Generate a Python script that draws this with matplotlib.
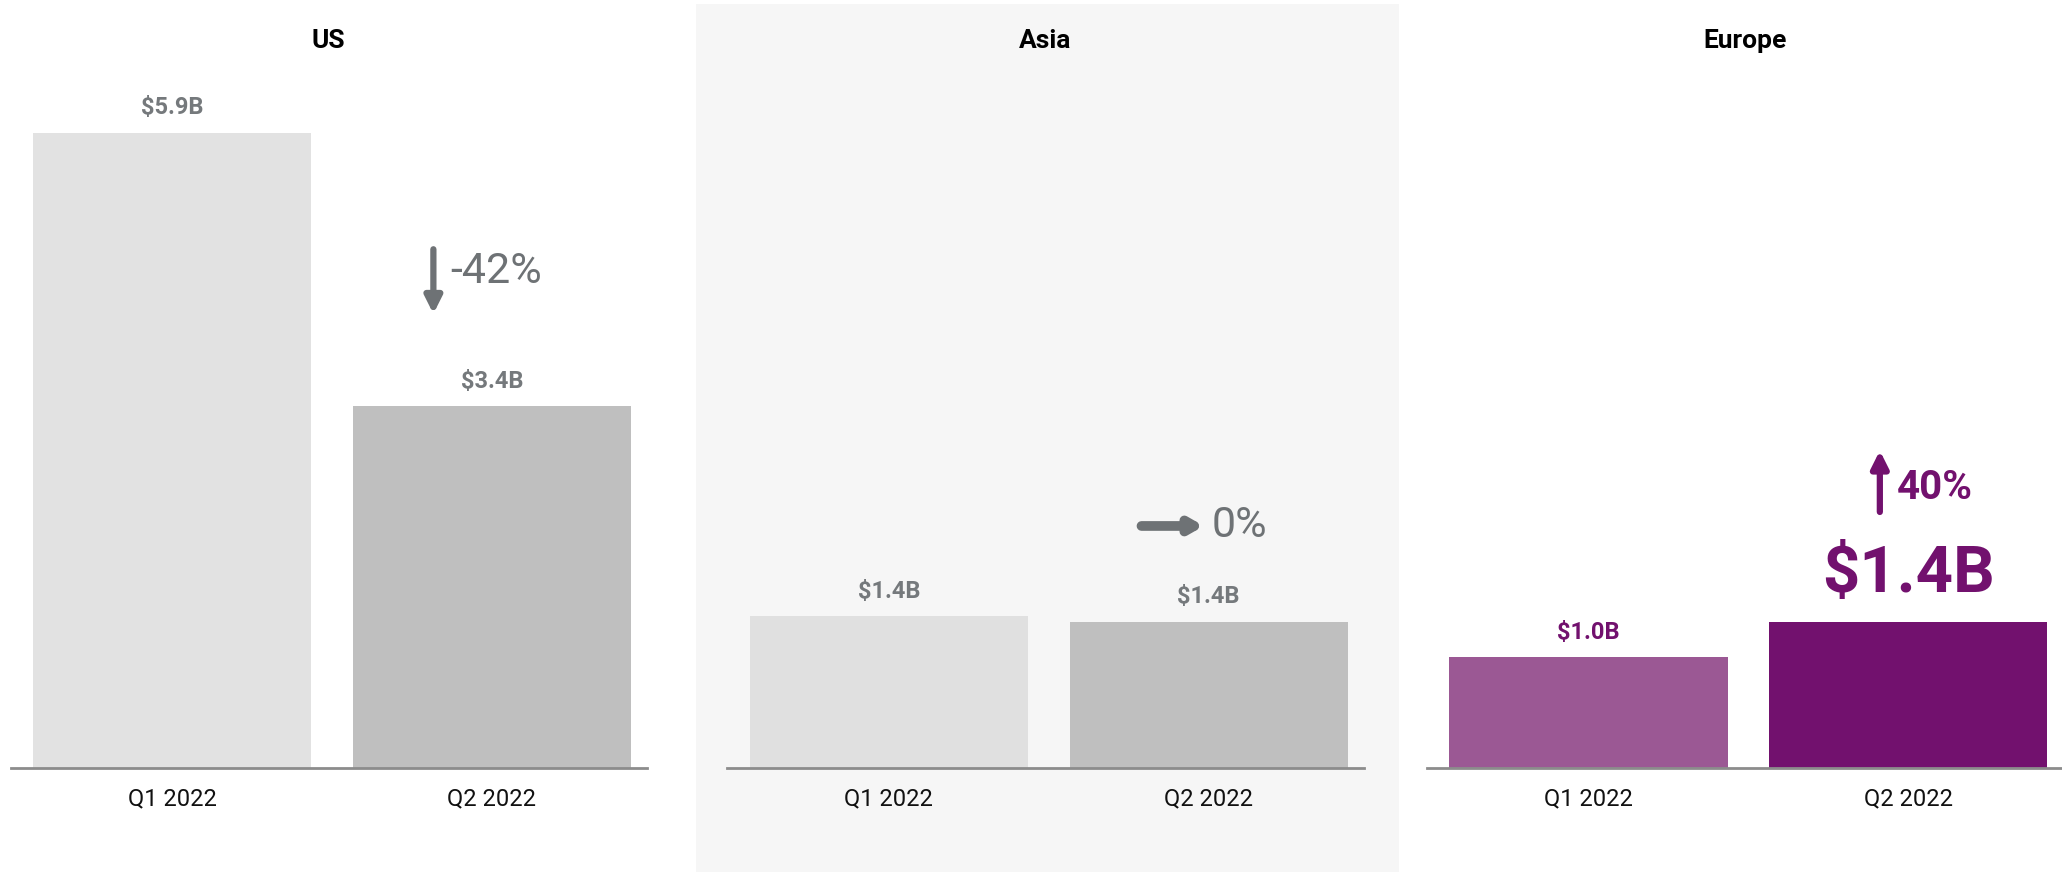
import matplotlib.pyplot as plt
from matplotlib.patches import Rectangle

plt.rcParams['font.family'] = ['Roboto', 'DejaVu Sans']

# Receita por região (bilhões de US$)
regions = ["US", "Asia", "Europe"]
quarters = ["Q1 2022", "Q2 2022"]
us_values = [5.9, 3.36]
asia_values = [1.41, 1.36]
europe_values = [1.03, 1.36]
changes = ["-42%", "0%", "40%"]

gray_text = "#75797c"
arrow_gray = "#6e7275"
purple = "#72116e"
colors = {
    "US": ["#e2e2e2", "#bfbfbf"],
    "Asia": ["#e0e0e0", "#bfbfbf"],
    "Europe": ["#9b5894", "#72116e"],
}
label_colors = {"US": gray_text, "Asia": gray_text, "Europe": purple}

fig = plt.figure(figsize=(20.62, 8.72), dpi=100)
fig.patch.set_facecolor("white")

# fundo cinza do painel do meio
fig.patches.append(Rectangle((0.3374, 0.0), 0.3412, 0.9955, transform=fig.transFigure,
                             facecolor="#f6f6f6", edgecolor="none", zorder=-1))

lefts = [0.0051, 0.3527, 0.692]
bottom, height, width = 0.119, 0.8026, 0.3087
all_values = [us_values, asia_values, europe_values]

axes = []
for reg, left, vals in zip(regions, lefts, all_values):
    ax = fig.add_axes([left, bottom, width, height], zorder=1)
    ax.set_facecolor("none")
    x = range(len(quarters))
    ax.bar(x, vals, width=0.87, color=colors[reg], zorder=2)
    ax.set_xlim(-0.505, 1.485)
    ax.set_ylim(0, 6.5)
    ax.set_xticks(list(x))
    ax.set_xticklabels(quarters, fontsize=17, color="#111111")
    ax.tick_params(axis="x", length=0, pad=14)
    ax.set_yticks([])
    for s in ["top", "left", "right"]:
        ax.spines[s].set_visible(False)
    ax.spines["bottom"].set_color("#8c8c8c")
    ax.spines["bottom"].set_linewidth(2)
    ax.text(0.5, 1.039, reg, transform=ax.transAxes, ha="center", va="center",
            fontsize=19, fontweight="bold", color="black")
    for i, v in enumerate(vals):
        if reg == "Europe" and i == 1:
            continue
        ax.annotate(f"${v:.1f}B", (i, v), xytext=(0, 18), textcoords="offset points",
                    ha="center", va="center", fontsize=17, fontweight="bold",
                    color=label_colors[reg])
    axes.append(ax)

ax_us, ax_asia, ax_eu = axes

# US: seta para baixo
ax_us.annotate("", xy=(0.817, 4.22), xytext=(0.817, 4.82),
               arrowprops=dict(arrowstyle="-|>,head_width=0.5,head_length=1.0",
                               lw=4.5, color=arrow_gray, shrinkA=0, shrinkB=0))
ax_us.text(0.87, 4.61, changes[0], ha="left", va="center", fontsize=31, color=arrow_gray)

# Asia: seta para a direita
ax_asia.annotate("", xy=(0.985, 2.25), xytext=(0.79, 2.25),
                 arrowprops=dict(arrowstyle="-|>,head_width=0.4,head_length=0.7",
                                 lw=7, color=arrow_gray, shrinkA=0, shrinkB=0))
ax_asia.text(1.01, 2.25, changes[1], ha="left", va="center", fontsize=31, color=arrow_gray)

# Europe: seta para cima e valor em destaque
ax_eu.annotate("", xy=(0.911, 2.95), xytext=(0.911, 2.38),
               arrowprops=dict(arrowstyle="-|>,head_width=0.5,head_length=1.0",
                               lw=4.5, color=purple, shrinkA=0, shrinkB=0))
ax_eu.text(0.965, 2.6, changes[2], ha="left", va="center", fontsize=29,
           fontweight="bold", color=purple)
ax_eu.annotate(f"${europe_values[1]:.1f}B", (1, europe_values[1]), xytext=(0, 34),
               textcoords="offset points", ha="center", va="center", fontsize=47,
               fontweight="bold", color=purple)

fig.savefig("out.png", dpi=100)
